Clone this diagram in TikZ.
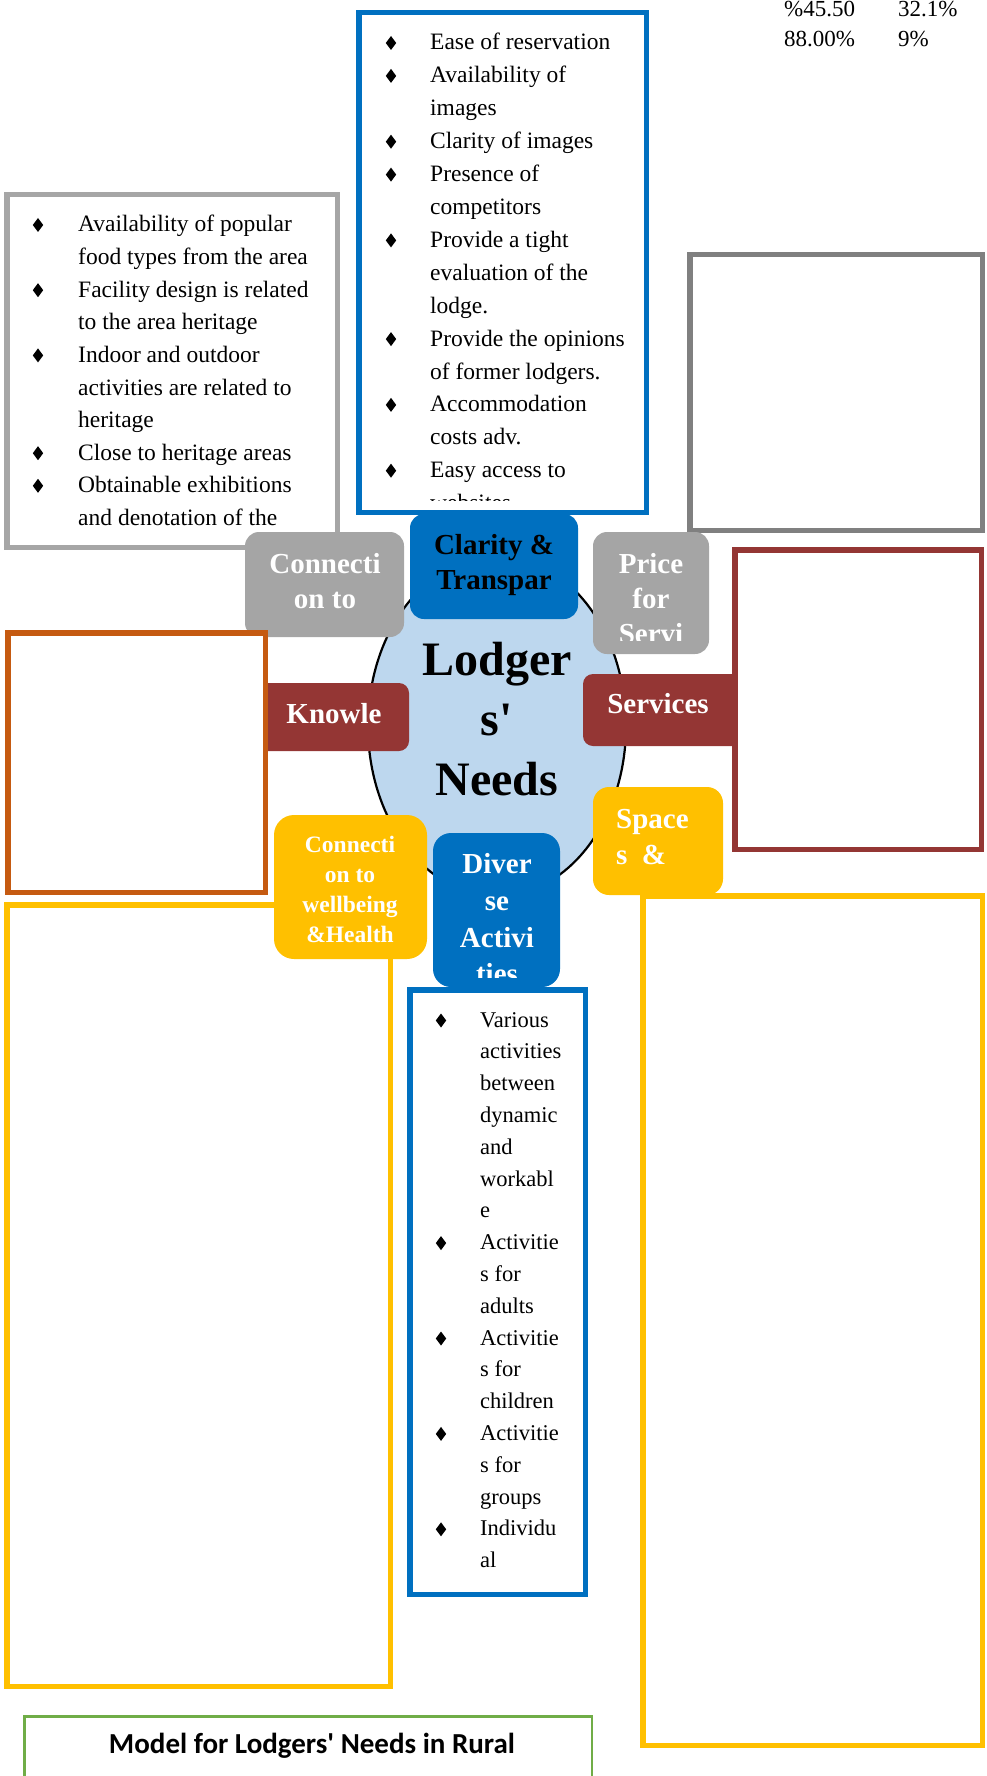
\documentclass[tikz,border=0pt]{standalone}
\usepackage{fontspec}
\setmainfont{Liberation Serif}[Ligatures=TeXOff]
\newfontfamily\titlefont{Carlito}[Ligatures=TeXOff]
\usetikzlibrary{shapes.geometric}
\definecolor{cblue}{HTML}{0070C0}
\definecolor{cgrayt}{HTML}{A5A5A5}
\definecolor{cgrayl}{HTML}{A6A6A6}
\definecolor{cgrayd}{HTML}{808080}
\definecolor{cred}{HTML}{943634}
\definecolor{corange}{HTML}{C55A11}
\definecolor{cyellow}{HTML}{FFC000}
\definecolor{cgreen}{HTML}{70AD47}
\definecolor{cell}{HTML}{BDD7EE}
\newcommand\dmd[2]{\fill (#1,#2) +(0,-7) -- +(5.2,0) -- +(0,7) -- +(-5.2,0) -- cycle;}
\begin{document}
\begin{tikzpicture}[x=1pt,y=-1pt,
  frame/.style={draw=#1, line width=5.5pt, fill=white, inner sep=0pt, rectangle},
  tile/.style={fill=#1, rounded corners=14pt, inner sep=0pt, rectangle},
  tiletxt/.style={text=white, font=\fontsize{29}{35}\selectfont\bfseries, inner sep=0pt, anchor=base},
  smalltxt/.style={text=white, font=\fontsize{23.5}{30}\selectfont\bfseries, inner sep=0pt, anchor=base},
  lstA/.style={font=\fontsize{23.5}{30}\selectfont, inner sep=0pt, anchor=base west},
  lstC/.style={font=\fontsize{22.5}{30}\selectfont, inner sep=0pt, anchor=base west},
  pct/.style={font=\fontsize{23}{28}\selectfont, inner sep=0pt, anchor=base west},
  hubtxt/.style={font=\fontsize{48}{60}\selectfont\bfseries, inner sep=0pt, anchor=base}]
\useasboundingbox (0,0) rectangle (986,1776);

% central ellipse
\node[ellipse, draw=black, line width=2.2pt, fill=cell, minimum width=258pt, minimum height=340pt, inner sep=0pt] (hub) at (497,726) {};

% boxes under tiles
\node[frame=cblue, minimum width=287.5pt, minimum height=499.5pt] (topbox) at (502.5,262.5) {};
\node[frame=cgrayl, minimum width=330.5pt, minimum height=352.5pt] (herbox) at (172,371) {};
\node[frame=cgrayd, minimum width=292.5pt, minimum height=275.5pt] (pricebox) at (836,392.5) {};
\node[frame=cyellow, minimum width=383.5pt, minimum height=781.5pt] (wellbox) at (198.5,1295.5) {};
\node[frame=cblue, minimum width=175.5pt, minimum height=604.5pt] (actbox) at (497.5,1292) {};

% tiles
\node[tile=cgrayt, minimum width=159pt, minimum height=105pt] (conn) at (324.5,584.5) {};
\node[tile=cblue, minimum width=168pt, minimum height=105pt] (clar) at (494,566.5) {};
\node[tile=cgrayt, minimum width=116pt, minimum height=122pt] (price) at (651,593) {};
\node[tile=cred, rounded corners=10pt, minimum width=169pt, minimum height=68pt] (know) at (324.5,717) {};
\node[tile=cred, rounded corners=10pt, minimum width=162pt, minimum height=72pt] (serv) at (664,710) {};
\node[tile=cyellow, rounded corners=16pt, minimum width=130pt, minimum height=108pt] (space) at (658,841) {};
\node[tile=cyellow, rounded corners=20pt, minimum width=153pt, minimum height=144pt] (well) at (350.5,887) {};
\node[tile=cblue, rounded corners=18pt, minimum width=127pt, minimum height=154pt] (div) at (496.5,910) {};

% boxes over tiles
\node[frame=corange, minimum width=257.5pt, minimum height=259.5pt] (knowbox) at (136.5,762.5) {};
\node[frame=cred, minimum width=246.5pt, minimum height=299.5pt] (servbox) at (858,699.5) {};
\node[frame=cyellow, minimum width=339.5pt, minimum height=849.5pt] (spacebox) at (812.5,1320.5) {};
\node[draw=cgreen, line width=2.5pt, fill=white, rectangle, inner sep=0pt, minimum width=567.5pt, minimum height=82.5pt] (titlebox) at (308,1757.5) {};

% hub text
\node[hubtxt] (hub1) at (497,675) {Lodger};
\node[hubtxt] (hub2) at (497,735) {s'};
\node[hubtxt] (hub3) at (497,795) {Needs};

% tile texts
\node[tiletxt] (conn1) at (325,573) {Connecti};
\node[tiletxt] (conn2) at (325,608) {on to};
\node[tiletxt, text=black] (clar1) at (494,554) {Clarity \&};
\node[tiletxt, text=black] (clar2) at (494,589) {Transpar};
\begin{scope}
\clip (593,532) rectangle (709,640);
\node[tiletxt] (price1) at (651,573) {Price};
\node[tiletxt] (price2) at (651,608) {for};
\node[tiletxt] (price3) at (651,643) {Servi};
\end{scope}
\node[tiletxt] (know1) at (334,723) {Knowle};
\node[tiletxt] (serv1) at (658,713) {Services};
\node[tiletxt, anchor=base west] (space1) at (616,828) {Space};
\node[tiletxt, anchor=base west] (space2) at (616,864) {s\ \ \&};
\node[smalltxt] (well1) at (350,852) {Connecti};
\node[smalltxt] (well2) at (350,882) {on to};
\node[smalltxt] (well3) at (350,912) {wellbeing};
\node[smalltxt] (well4) at (350,942) {\&Health};
\begin{scope}
\clip (433,833) rectangle (560,977);
\node[tiletxt] (div1) at (497,873) {Diver};
\node[tiletxt] (div2) at (497,910) {se};
\node[tiletxt] (div3) at (497,947) {Activi};
\node[tiletxt] (div4) at (497,983) {ties};
\end{scope}

% top list (clarity & transparency)
\begin{scope}
\clip (362,15) rectangle (643,500);
\foreach \ln/\bl [count=\i] in {Ease of reservation/1, Availability of/1, images/0, Clarity of images/1, Presence of/1, competitors/0, Provide a tight/1, evaluation of the/0, lodge./0, Provide the opinions/1, of former lodgers./0, Accommodation/1, costs adv./0, Easy access to/1, websites/0}{
  \pgfmathsetmacro\yy{50+32.9*(\i-1)}
  \node[lstA] (tl\i) at (430,\yy) {\ln};
  \ifnum\bl=1 \dmd{391}{\yy-7}\fi
}
\end{scope}

% heritage list
\foreach \ln/\bl [count=\i] in {Availability of popular/1, food types from the area/0, Facility design is related/1, to the area heritage/0, Indoor and outdoor/1, activities are related to/0, heritage/0, Close to heritage areas/1, Obtainable exhibitions/1, and denotation of the/0}{
  \pgfmathsetmacro\yy{232+32.6*(\i-1)}
  \node[lstA] (hl\i) at (78,\yy) {\ln};
  \ifnum\bl=1 \dmd{38}{\yy-7}\fi
}

% activities list
\foreach \ln/\bl [count=\i] in {Various/1, activities/0, between/0, dynamic/0, and/0, workabl/0, e/0, Activitie/1, s for/0, adults/0, Activitie/1, s for/0, children/0, Activitie/1, s for/0, groups/0, Individu/1, al/0}{
  \pgfmathsetmacro\yy{1027+31.8*(\i-1)}
  \node[lstC] (al\i) at (480,\yy) {\ln};
  \ifnum\bl=1 \dmd{441}{\yy-6.5}\fi
}

% percentages
\node[pct] (p1) at (784,17) {\%45.50};
\node[pct] (p2) at (898,17) {32.1\%};
\node[pct] (p3) at (784,47) {88.00\%};
\node[pct] (p4) at (898,47) {9\%};

% title
\node[font=\titlefont\fontsize{29}{34}\selectfont\bfseries, inner sep=0pt, anchor=base] (title) at (312,1753) {Model for Lodgers' Needs in Rural};
\end{tikzpicture}
\end{document}
